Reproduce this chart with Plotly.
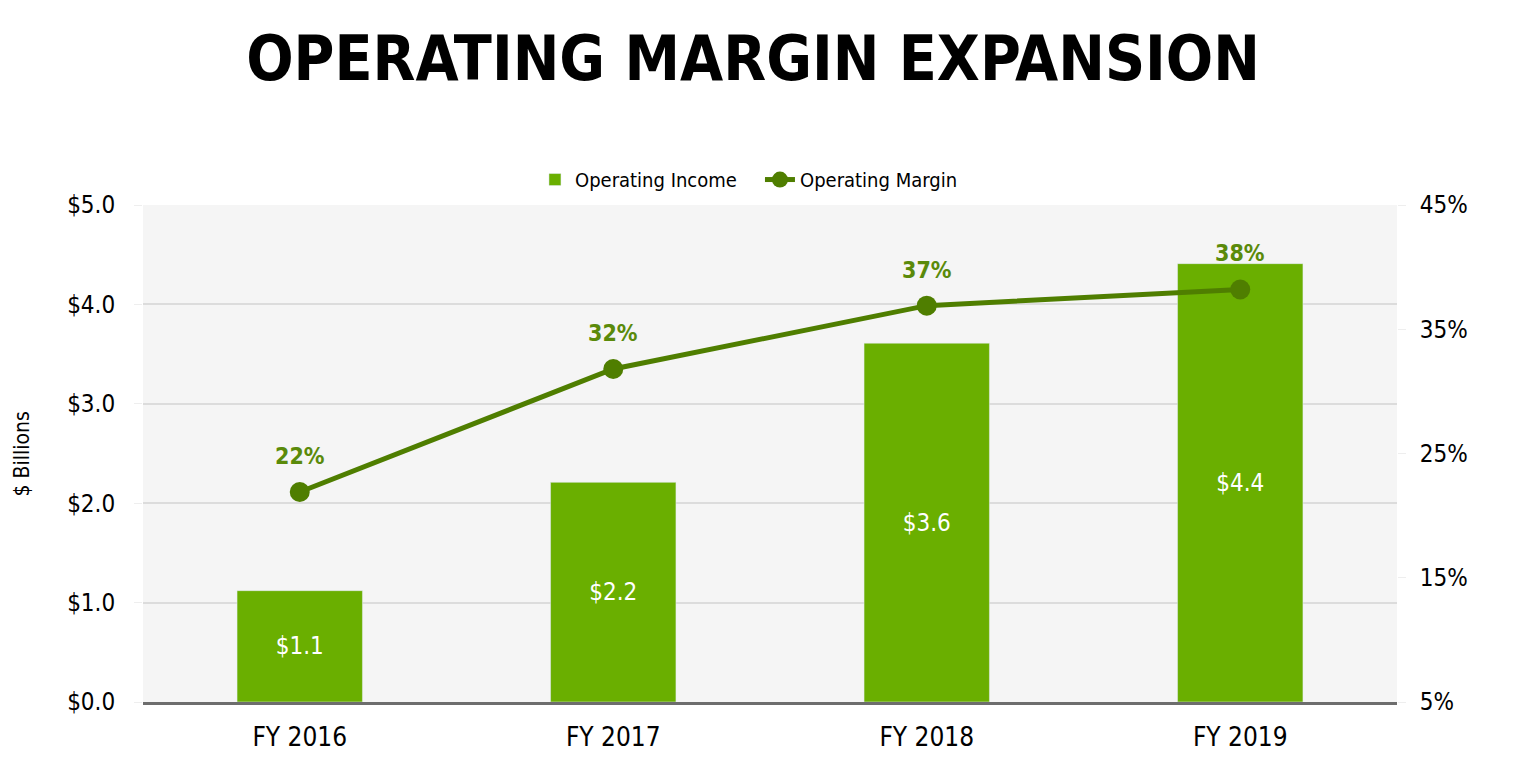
import plotly.graph_objects as go

# === Data ===
years = ["FY 2016", "FY 2017", "FY 2018", "FY 2019"]
op_income = [1.12, 2.21, 3.61, 4.41]      # $ billions
op_margin = [21.9, 31.8, 36.9, 38.2]      # percent
margin_ticks = [5, 15, 25, 35, 45]

BAR_GREEN = "#6aaf00"
LINE_GREEN = "#4f7e00"
LABEL_GREEN = "#5a8a0a"
FONT = "DejaVu Sans Condensed, DejaVu Sans, sans-serif"

fig = go.Figure()

# Operating income bars
fig.add_trace(go.Bar(
    x=years, y=op_income,
    name="Operating Income",
    marker=dict(color=BAR_GREEN),
    width=0.4,
    texttemplate="$%{y:.1f}",
    textposition="inside",
    insidetextanchor="middle",
    textangle=0,
    textfont=dict(color="white", size=24, family=FONT),
))

# Operating margin line on the right axis
fig.add_trace(go.Scatter(
    x=years, y=op_margin,
    name="Operating Margin",
    yaxis="y2",
    mode="lines+markers",
    line=dict(color=LINE_GREEN, width=5),
    marker=dict(color=LINE_GREEN, size=20),
))

# Percent labels above the markers
for yr, m in zip(years, op_margin):
    fig.add_annotation(
        x=yr, y=m, yref="y2",
        text=f"<b>{m:.0f}%</b>",
        showarrow=False,
        yshift=36,
        font=dict(color=LABEL_GREEN, size=23, family=FONT),
    )

# y axis title as a rotated annotation
fig.add_annotation(
    text="$ Billions", textangle=-90,
    xref="paper", yref="paper",
    x=-0.0965, y=0.5, xanchor="center", yanchor="middle",
    showarrow=False,
    font=dict(size=21, color="black"),
)

# === Layout ===
# page body adds an 8px margin, so the figure is 16px smaller than the window
fig.update_layout(
    width=1510, height=753,
    margin=dict(l=135, r=121, t=197, b=59),
    paper_bgcolor="white",
    plot_bgcolor="#f5f5f5",
    font=dict(family=FONT, size=22, color="black"),
    title=dict(
        text="<b>OPERATING MARGIN EXPANSION</b>",
        x=0.4934, xanchor="center",
        y=0.933, yanchor="middle",
        font=dict(size=62, color="black", family=FONT),
    ),
    legend=dict(
        orientation="h",
        x=0.492, xanchor="center",
        y=1.012, yanchor="bottom",
        font=dict(size=20),
        entrywidth=180,
        bgcolor="rgba(0,0,0,0)",
    ),
    showlegend=True,
)

fig.update_xaxes(
    showline=True, linecolor="#6d6d6d", linewidth=3,
    showgrid=False,
    tickfont=dict(size=26),
    ticks="",
    ticklabelstandoff=10,
    automargin=False,
)

fig.update_layout(
    yaxis=dict(
        range=[0, 5], dtick=1,
        tickprefix="$", tickformat=".1f",
        showgrid=True, gridcolor="#dcdcdc", gridwidth=1.5,
        zeroline=False,
        ticks="outside", ticklen=8, tickcolor="#eeeeee",
        ticklabelstandoff=14,
        tickfont=dict(size=24),
        automargin=False,
    ),
    yaxis2=dict(
        overlaying="y", side="right",
        range=[5, 45],
        tickmode="array", tickvals=margin_ticks,
        ticktext=[f"{t}%" for t in margin_ticks],
        showgrid=False, zeroline=False,
        ticks="outside", ticklen=8, tickcolor="#eeeeee",
        ticklabelstandoff=9,
        tickfont=dict(size=24),
        automargin=False,
    ),
)

fig.write_html("out.html")
